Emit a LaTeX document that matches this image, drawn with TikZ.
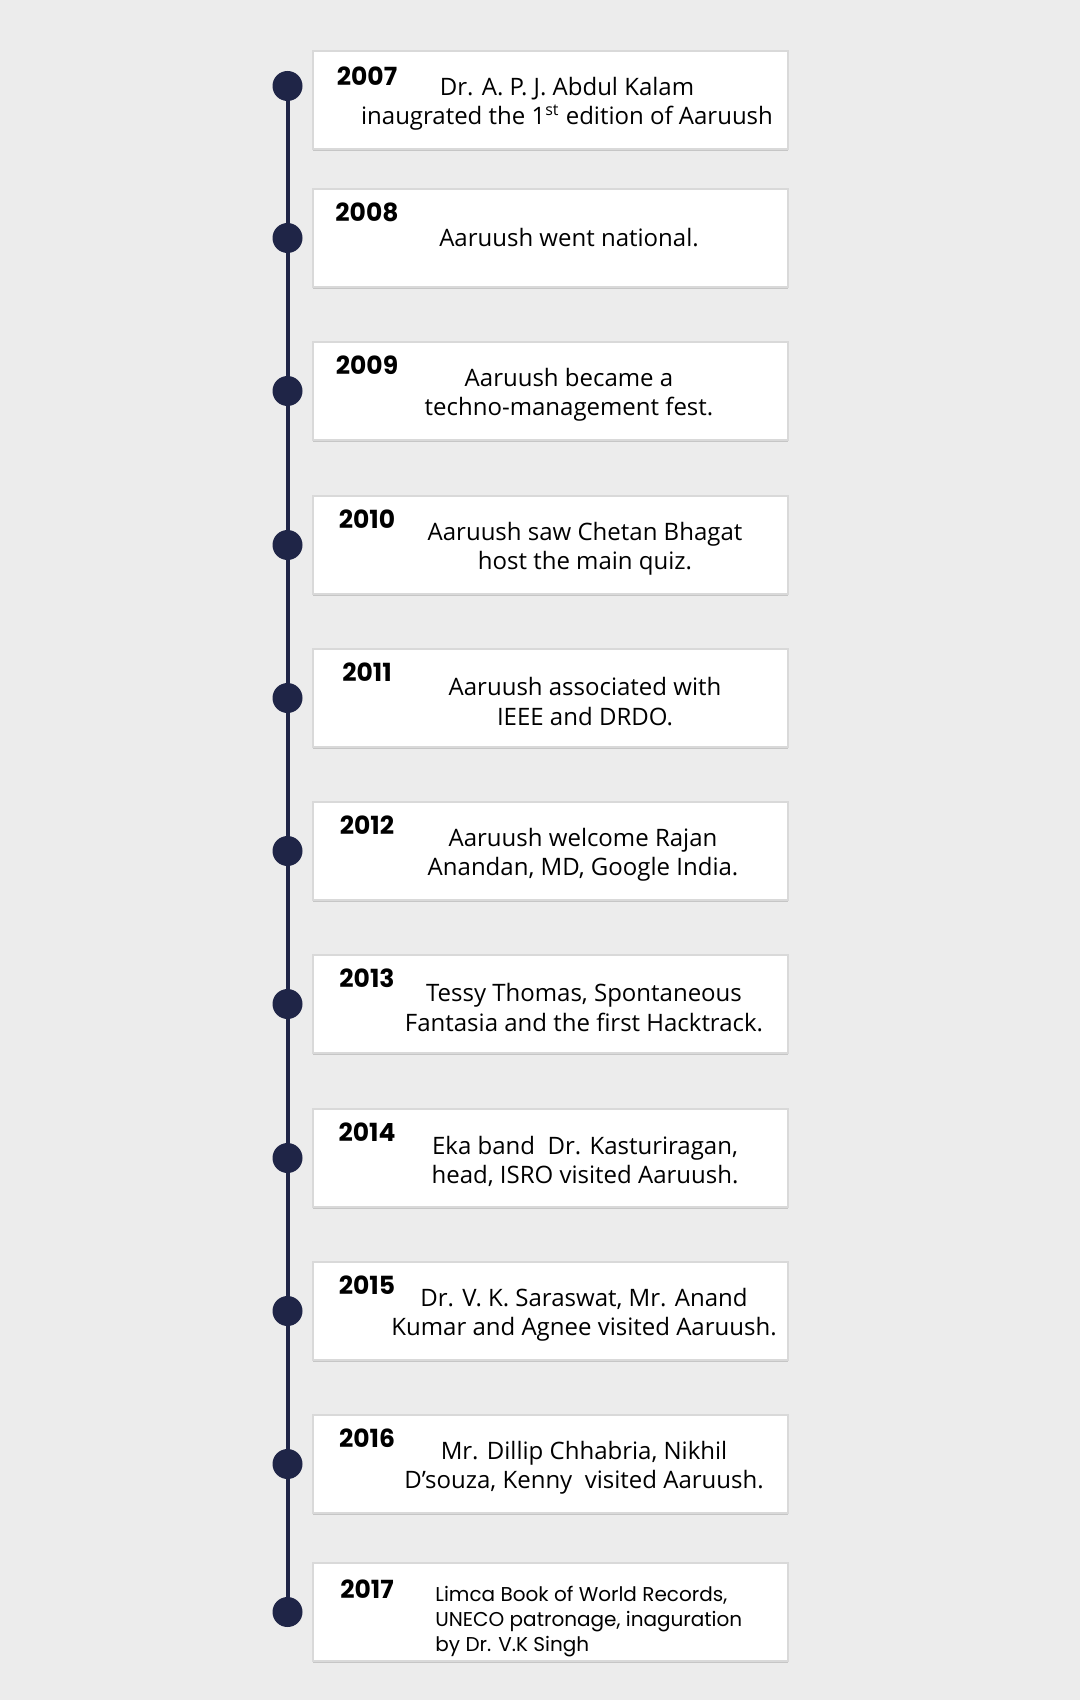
\documentclass[tikz,border=0pt]{standalone}
\usepackage{fontspec}
\setmainfont{Open Sans}
\newfontfamily\yearfont{Poppins}
\usetikzlibrary{shadows,backgrounds}
\definecolor{navy}{HTML}{1F2547}
\definecolor{bggrey}{HTML}{ECECEC}
\tikzset{
  card/.style={draw=black!15, line width=1pt, fill=white, minimum width=237.5pt, minimum height=49pt, inner sep=0pt,
    drop shadow={shadow xshift=0pt, shadow yshift=-1pt, opacity=0.35}},
  dot/.style={circle, fill=navy, minimum size=15pt, inner sep=0pt},
  yearlabel/.style={font=\yearfont\bfseries\fontsize{12.5}{14}\selectfont, inner sep=0pt},
  desc/.style={font=\fontsize{12}{14.6}\selectfont, align=center, inner sep=0pt},
  tline/.style={navy, line width=2pt}
}
\begin{document}
\begin{tikzpicture}[x=0.5pt, y=-0.5pt]
  \useasboundingbox (0,0) rectangle (1080,1700);
  % first card, its dot sits higher
  \node[card] (box-2007) at (550.5,100) {};
  \node[dot] (dot-2007) at (287.5,86) {};
  \node[yearlabel] (yr-2007) at (367,76) {2007};
  \node[desc] (txt-2007) at (567,103.5) {Dr. A. P. J. Abdul Kalam\\inaugrated the 1\textsuperscript{st} edition of Aaruush};
  % middle cards
  \foreach \yr/\cy/\tx/\dy/\txt in {
    2008/238/569/0/{Aaruush went national.},
    2009/391/569/3.5/{Aaruush became a\\techno-management fest.},
    2010/545/585/3.5/{Aaruush saw Chetan Bhagat\\host the main quiz.},
    2011/698/585/3.5/{Aaruush associated with\\IEEE and DRDO.},
    2012/851/583/3.5/{Aaruush welcome Rajan\\Anandan, MD, Google India.},
    2013/1004/584/3.5/{Tessy Thomas, Spontaneous\\Fantasia and the first Hacktrack.},
    2014/1158/585/3.5/{Eka band\ \ Dr. Kasturiragan,\\head, ISRO visited Aaruush.},
    2015/1311/584/3.5/{Dr. V. K. Saraswat, Mr. Anand\\Kumar and Agnee visited Aaruush.},
    2016/1464/584/3.5/{Mr. Dillip Chhabria, Nikhil\\D’souza, Kenny\ \ visited Aaruush.}} {
    \node[card] (box-\yr) at (550.5,\cy) {};
    \node[dot] (dot-\yr) at (287.5,\cy) {};
    \node[yearlabel] (yr-\yr) at (367,\cy-26) {\yr};
    \node[desc] (txt-\yr) at (\tx,\cy+\dy) {\txt};
  }
  % last card, smaller left-aligned text
  \node[card] (box-2017) at (550.5,1612) {};
  \node[dot] (dot-2017) at (287.5,1612) {};
  \node[yearlabel] (yr-2017) at (367,1589) {2017};
  \node[desc, anchor=west, align=left, font=\yearfont\fontsize{10}{12.5}\selectfont] (txt-2017) at (435,1622)
    {Limca Book of World Records,\\UNECO patronage, inaguration\\by Dr. V.K Singh};
  % the time line behind the dots
  \begin{scope}[on background layer]
    \fill[bggrey] (0,0) rectangle (1080,1700);
    \draw[tline] (dot-2007.center) -- (dot-2017.center);
  \end{scope}
\end{tikzpicture}
\end{document}
